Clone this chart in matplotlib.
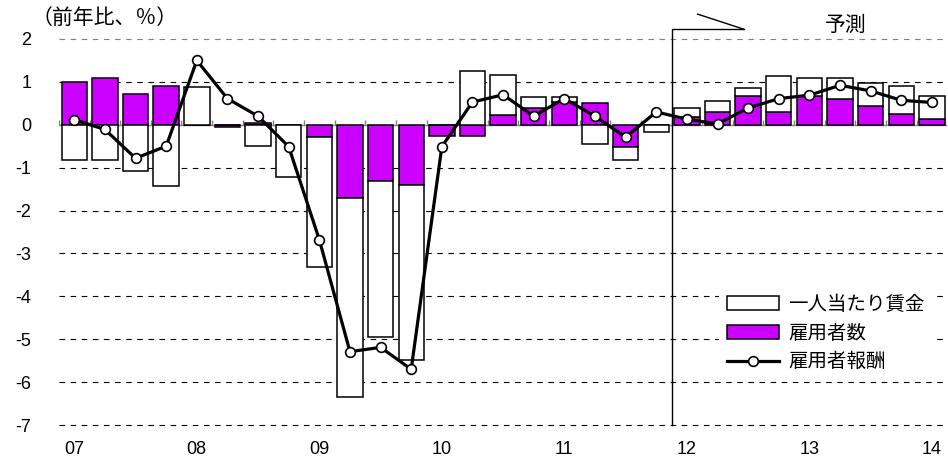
import matplotlib

matplotlib.use("Agg")
import matplotlib.pyplot as plt
from matplotlib.lines import Line2D
from matplotlib.patches import Patch

JP = ["Noto Sans CJK JP", "DejaVu Sans"]
NUM = "Liberation Sans"
PURPLE = "#CC00FF"

# quarterly, 2007Q1 .. 2014Q1 (y/y %)
year_labels = ["07", "08", "09", "10", "11", "12", "13", "14"]
employees = [1.00, 1.09, 0.72, 0.90, 0.00, -0.06, 0.04, 0.00,
             -0.29, -1.70, -1.30, -1.40, -0.26, -0.27, 0.23, 0.38,
             0.54, 0.50, -0.51, 0.00, 0.17, 0.30, 0.67, 0.30,
             0.67, 0.60, 0.44, 0.26, 0.13]
wage = [-0.81, -0.81, -1.08, -1.43, 0.87, 0.00, -0.49, -1.22,
        -3.03, -4.64, -3.65, -4.09, 0.00, 1.26, 0.93, 0.26,
        0.10, -0.45, -0.30, -0.16, 0.23, 0.25, 0.18, 0.83,
        0.42, 0.49, 0.53, 0.65, 0.54]
compensation = [0.12, -0.11, -0.78, -0.50, 1.50, 0.61, 0.20, -0.51,
                -2.68, -5.29, -5.19, -5.70, -0.51, 0.53, 0.70, 0.20,
                0.61, 0.20, -0.29, 0.30, 0.13, 0.02, 0.39, 0.61,
                0.69, 0.92, 0.79, 0.57, 0.52]
forecast_start = 19.5

x = list(range(len(employees)))
# stack wage on top of employees when both share a sign, else start from zero
wage_bottom = [e if e * w > 0 else 0 for e, w in zip(employees, wage)]

fig = plt.figure(figsize=(9.48, 4.67), dpi=100)
ax = fig.add_axes([0.0622, 0.0899, 0.937, 0.8266])
ymin, ymax = -7, 2
ax.set_xlim(-0.5, len(x) - 0.5)
ax.set_ylim(ymin, ymax)

for y in range(ymin, ymax + 1):
    if y == 0:
        continue
    ax.axhline(y, color="#808080" if y == ymax else "black", lw=0.8,
               ls=(0, (5, 5)), zorder=0, clip_on=False)

ax.bar(x, employees, width=0.83, color=PURPLE, edgecolor="black", lw=1.1, zorder=2)
ax.bar(x, wage, width=0.83, bottom=wage_bottom, color="white",
       edgecolor="black", lw=1.1, zorder=2)

# zero axis with category boundary ticks
ax.axhline(0, color="#808080", lw=1.0, zorder=1)
ax.vlines([i - 0.5 for i in x] + [len(x) - 0.5], 0, 0.12, color="#808080", lw=1.0, zorder=1)

ax.plot(x, compensation, color="black", lw=2.3, marker="o", ms=7,
        mfc="white", mec="black", mew=1.2, zorder=4)

# forecast marker
ax.plot([forecast_start, forecast_start, 21.85], [ymin, 2.23, 2.23],
        color="black", lw=1.0, clip_on=False, zorder=3)
ax.plot([20.35, 21.85], [2.58, 2.23], color="black", lw=1.0, clip_on=False, zorder=3)
ax.text(25.2, 2.33, "予測", family=JP, fontsize=15, ha="center", va="center")

for s in ax.spines.values():
    s.set_visible(False)
ax.set_xticks([])
ax.set_yticks(range(ymin, ymax + 1))
ax.set_yticklabels([str(v) for v in range(ymin, ymax + 1)], family=NUM, fontsize=13)
ax.tick_params(axis="y", length=0, pad=20)

for i, lab in enumerate(year_labels):
    ax.text(i * 4, -7.58, lab, family=NUM, fontsize=13, ha="center", va="center")

fig.text(0.033, 1 - 18 / 467, "（前年比、％）", family=JP, fontsize=15, va="center")

handles = [
    Patch(facecolor="white", edgecolor="black", lw=1.1),
    Patch(facecolor=PURPLE, edgecolor="black", lw=1.1),
    Line2D([], [], color="black", lw=2.3, marker="o", ms=7, mfc="white", mec="black", mew=1.2),
]
leg = ax.legend(handles, ["一人当たり賃金", "雇用者数", "雇用者報酬"],
                prop={"family": JP, "size": 14}, loc="upper left",
                bbox_to_anchor=(719 / 948, 1 - 286 / 467), bbox_transform=fig.transFigure,
                frameon=True, facecolor="white", edgecolor="none", framealpha=1,
                fancybox=False, handlelength=2.7, handleheight=0.7, handletextpad=0.45,
                labelspacing=0.4, borderpad=0.4, borderaxespad=0)
leg.set_zorder(5)

fig.savefig("out.png", dpi=100)
